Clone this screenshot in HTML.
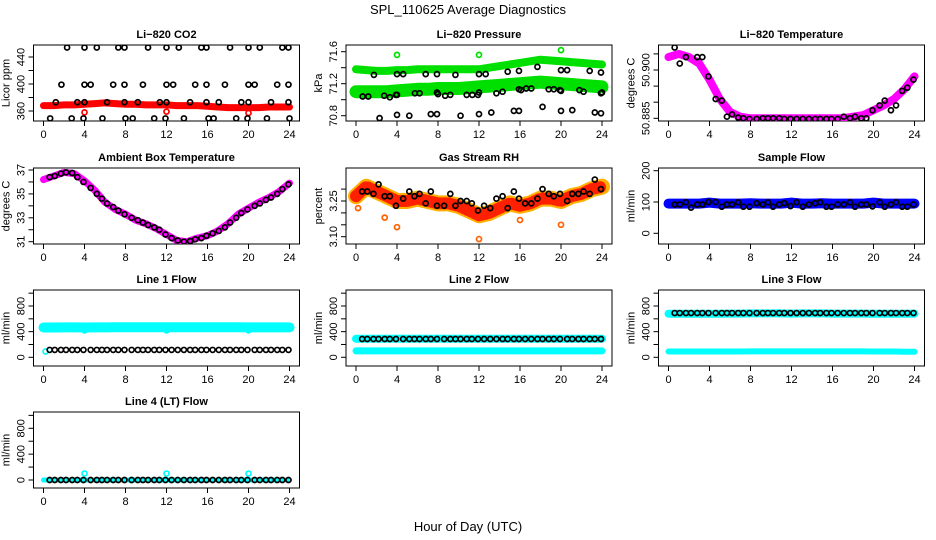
<!DOCTYPE html>
<html><head><meta charset="utf-8">
<style>
html,body{margin:0;padding:0;background:#fff;}
svg{display:block;font-family:"Liberation Sans",Arial,sans-serif;}
</style></head>
<body>
<svg id="fig" width="936" height="540" viewBox="0 0 936 540">
<rect width="936" height="540" fill="#fff"/>
<text x="468" y="14" text-anchor="middle" font-size="13">SPL_110625  Average Diagnostics</text>
<text x="468" y="531" text-anchor="middle" font-size="13">Hour of Day (UTC)</text>
</svg>
<script>
// ---- data ----
const xTicks = [0,4,8,12,16,20,24];
const bandHrs = [0,1,2,3,4,5,6,7,8,9,10,11,12,13,14,15,16,17,18,19,20,21,22,23,24];
const hrs = [0.6,1.1,1.7,2.2,2.8,3.3,3.9,4.6,5.2,5.7,6.2,6.8,7.3,7.9,8.6,9.2,9.7,10.2,10.8,11.3,11.9,12.5,13.1,13.7,14.3,14.8,15.4,15.9,16.5,17.1,17.7,18.2,18.8,19.3,19.9,20.6,21.1,21.7,22.2,22.8,23.3,23.9];
const setHrs = [2.3,4.0,5.2,7.3,7.9,10.2,12.0,13.2,15.4,15.9,18.2,20.0,21.1,23.3,23.9,
 1.75,4.0,4.6,6.8,7.9,9.7,12.0,12.65,14.8,15.9,17.7,20.0,20.6,22.8,23.9,
 1.2,3.3,4.0,6.2,7.9,9.2,11.35,12.0,14.3,15.9,17.1,19.3,20.0,22.2,23.9,
 0.65,2.75,3.9,5.75,8.0,8.7,10.8,11.9,13.7,16.1,16.6,18.8,19.9,21.8,24.0];
const outHrs = [4,12,20];

const co2Vals = [454,454,454,454,454,454,454,454,454,454,454,454,454,454,454,
 399,399,399,399,399,399,399,399,399,399,399,399,399,399,399,
 373,373,373,373,373,373,373,373,373,373,373,373,373,373,373,
 349,349,349,349,349,349,349,349,349,349,349,349,349,349,349];
const co2Band = [368,368,369,369,370,371,372,371,370,370,369,369,369,368,368,368,367,366,365,365,365,365,366,366,366];
const co2Out = [358,359,357];

const presVals = [70.77,70.81,70.80,70.82,70.82,70.80,70.82,70.84,70.86,70.86,70.91,70.86,70.87,70.84,70.83,
 71.31,71.32,71.32,71.32,71.32,71.31,71.32,71.32,71.35,71.36,71.41,71.37,71.37,71.36,71.34,
 71.04,71.03,71.06,71.08,71.09,71.06,71.06,71.09,71.10,71.13,71.14,71.13,71.11,71.10,71.08,
 71.04,71.05,71.06,71.08,71.07,71.05,71.06,71.06,71.08,71.12,71.14,71.13,71.12,71.12,71.09];
const presUpper = [71.38,71.37,71.36,71.36,71.37,71.37,71.38,71.38,71.38,71.38,71.38,71.38,71.38,71.40,71.42,71.44,71.46,71.48,71.50,71.49,71.48,71.47,71.46,71.45,71.44];
const presLower = [71.10,71.10,71.10,71.10,71.11,71.12,71.13,71.13,71.14,71.14,71.14,71.15,71.16,71.17,71.18,71.19,71.20,71.21,71.22,71.21,71.20,71.19,71.18,71.17,71.16];
const presOut = [71.56,71.56,71.62];

const tempVals = [50.907,50.902,50.904,50.9105,50.904,50.904,50.898,50.891,50.8905,50.8855,50.8862,50.8852,50.885,50.8848,50.8848,50.885,50.885,50.885,50.885,50.8848,50.8848,50.8848,50.8848,50.8848,50.8848,50.8848,50.8848,50.8848,50.8848,50.8855,50.885,50.8855,50.885,50.885,50.8875,50.889,50.8905,50.8875,50.889,50.8935,50.8945,50.897];
const tempBand = [50.904,50.905,50.904,50.902,50.897,50.891,50.887,50.8855,50.885,50.885,50.885,50.885,50.885,50.885,50.885,50.885,50.885,50.885,50.8855,50.886,50.8875,50.889,50.891,50.894,50.898];

const ambVals = [36.4,36.5,36.7,36.8,36.75,36.4,36.0,35.5,35.0,34.6,34.2,33.9,33.6,33.3,33.0,32.8,32.6,32.4,32.2,32.0,31.6,31.3,31.1,31.0,31.05,31.2,31.3,31.5,31.7,31.9,32.2,32.6,33.0,33.4,33.7,34.0,34.2,34.5,34.7,35.0,35.4,35.8];
const ambBand = [36.2,36.5,36.8,36.7,36.1,35.3,34.3,33.7,33.3,32.8,32.5,32.1,31.6,31.1,31.0,31.3,31.5,31.9,32.5,33.3,33.8,34.3,34.7,35.2,35.9];

const rhVals = [3.29,3.29,3.28,3.32,3.27,3.27,3.23,3.26,3.29,3.27,3.28,3.24,3.29,3.23,3.23,3.28,3.23,3.25,3.25,3.24,3.21,3.23,3.22,3.26,3.27,3.22,3.29,3.26,3.24,3.24,3.26,3.30,3.28,3.27,3.28,3.25,3.28,3.28,3.29,3.28,3.34,3.30];
const rhBand = [3.27,3.31,3.29,3.27,3.25,3.25,3.26,3.25,3.24,3.24,3.23,3.21,3.19,3.20,3.22,3.24,3.23,3.24,3.26,3.26,3.25,3.27,3.28,3.30,3.31];
const rhOut = [3.22,3.18,3.14,3.09,3.17,3.15];
const rhOutHrs = [0.2,2.8,4.0,12.0,16.0,20.0];

const sfVals = [92,92,99,82,92,92,100,100,85,92,92,99,85,85,96,92,99,85,92,96,87,99,85,92,96,99,85,85,92,92,99,85,92,92,86,99,85,92,99,85,85,92];
const sfBand = [95,95,95,95,98,95,95,95,96,95,95,95,98,95,95,96,95,95,95,95,98,95,95,95,95];

const l1Vals = [115,115,115,115,115,115,115,115,115,115,115,115,115,115,115,115,115,115,115,115,115,115,115,115,115,115,115,115,115,115,115,115,115,115,115,115,115,115,115,115,115,115];
const l1Band = [465,465,466,466,465,466,467,468,468,468,468,468,468,468,468,468,468,468,468,468,466,466,466,466,466];
const l1Out = [90,420,420,420];
const l1OutHrs = [0.2,4,12,20];

const l2Vals = [285,285,285,285,285,285,285,285,285,285,285,285,285,285,285,285,285,285,285,285,285,285,285,285,285,285,285,285,285,285,285,285,285,285,285,285,285,285,285,285,285,285];
const l2Upper = [290,290,290,290,288,290,290,290,290,290,290,290,288,290,290,290,290,290,290,290,288,290,290,290,290];
const l2Lower = [100,100,100,100,100,100,100,100,100,100,100,100,100,100,100,100,100,100,100,100,100,100,100,100,100];

const l3Vals = [690,690,690,690,690,690,690,690,690,690,690,690,690,690,690,690,690,690,690,690,690,690,690,690,690,690,690,690,690,690,690,690,690,690,690,690,690,690,690,690,690,690];
const l3Upper = [680,680,680,680,678,680,682,682,684,684,684,684,682,684,684,684,682,682,682,682,678,680,680,680,682];
const l3Lower = [90,90,90,90,90,90,90,90,92,92,92,92,92,92,92,92,92,92,92,92,90,90,90,88,88];

const l4Vals = [0,0,0,0,0,0,0,0,0,0,0,0,0,0,0,0,0,0,0,0,0,0,0,0,0,0,0,0,0,0,0,0,0,0,0,0,0,0,0,0,0,0];
const l4Band = [0,0,0,0,0,0,0,0,0,0,0,0,0,0,0,0,0,0,0,0,0,0,0,0,0];
const l4Out = [100,100,100];

// ---- drawing ----
const NS = "http://www.w3.org/2000/svg";
const svg = document.getElementById('fig');
const colLeft = [33.5, 346, 658.5];
const rowTop = [45, 168, 290, 412];
const BW = 266, BH = 76;

function mk(tag, attrs, parent){
  const e = document.createElementNS(NS, tag);
  for (const k in attrs) e.setAttribute(k, attrs[k]);
  parent.appendChild(e);
  return e;
}

function panel(key, title, ylab, col, row, v1, p1, v2, p2, ticks, labels){
  const L = colLeft[col], T = rowTop[row];
  const g = mk('g', {}, svg);
  
  
  const xs = h => L + 10 + h * 10.25;
  const k = (p2 - p1) / (v2 - v1);
  const ys = v => T + p1 + (v - v1) * k;
  const box = mk('rect', {x:L, y:T, width:BW, height:BH, fill:'none', stroke:'#000', 'stroke-width':1}, g);
  
  
  const t = mk('text', {x:L + BW/2, y:T - 7, 'text-anchor':'middle', 'font-size':11, 'font-weight':'bold'}, g);
  t.textContent = title;
  
  
  const xa = mk('g', {}, g);
  
  
  mk('line', {x1:xs(xTicks[0]), x2:xs(xTicks[xTicks.length-1]), y1:T+BH, y2:T+BH, stroke:'#000'}, xa);
  xTicks.forEach(v => {
    mk('line', {x1:xs(v), x2:xs(v), y1:T+BH, y2:T+BH+5, stroke:'#000'}, xa);
    const tl = mk('text', {x:xs(v), y:T+BH+17, 'text-anchor':'middle', 'font-size':11}, xa);
    tl.textContent = String(v);
    
    
  });
  const ya = mk('g', {}, g);
  
  
  mk('line', {x1:L, x2:L, y1:ys(ticks[0]), y2:ys(ticks[ticks.length-1]), stroke:'#000'}, ya);
  ticks.forEach(v => {
    mk('line', {x1:L-5, x2:L, y1:ys(v), y2:ys(v), stroke:'#000'}, ya);
  });
  labels.forEach(lb => {
    const yy = ys(parseFloat(lb));
    const tl = mk('text', {x:L-9, y:yy, 'text-anchor':'middle', 'font-size':11, transform:'rotate(-90 ' + (L-9) + ' ' + yy + ')'}, ya);
    tl.textContent = lb;
    
    
  });
  const yl = L - 24, ym = T + BH/2;
  const ylt = mk('text', {x:yl, y:ym, 'text-anchor':'middle', 'font-size':11, transform:'rotate(-90 ' + yl + ' ' + ym + ')'}, g);
  ylt.textContent = ylab;
  
  
  const clipId = 'clip-' + key;
  const cp = mk('clipPath', {id:clipId}, g);
  mk('rect', {x:L, y:T, width:BW, height:BH}, cp);
  const marks = mk('g', {'clip-path':'url(#' + clipId + ')'}, g);
  
  
  return {xs, ys, marks, key};
}

function band(p, hArr, vArr, color, width, name){
  const pts = hArr.map((h,i) => p.xs(h).toFixed(1) + ',' + p.ys(vArr[i]).toFixed(1)).join(' ');
  const pl = mk('polyline', {points:pts, fill:'none', stroke:color, 'stroke-width':width, 'stroke-linecap':'round', 'stroke-linejoin':'round'}, p.marks);
  
  
  return pl;
}
function pts(p, hArr, vArr, color, name, sw){
  hArr.forEach((h,i) => {
    const c = mk('circle', {cx:p.xs(h), cy:p.ys(vArr[i]), r:2.5, fill:'none', stroke:color, 'stroke-width':sw || 1.7}, p.marks);
    
    
  });
}

// Li-820 CO2
let p = panel('co2', 'Li\u2212820 CO2', 'Licor ppm', 0, 0, 360, 66, 440, 12, [360,380,400,420,440], ['360','400','440']);
band(p, bandHrs, co2Band, '#ff0000', 7, 'co2-band');
pts(p, outHrs, co2Out, '#ff0000', 'co2-outlier-point');
pts(p, setHrs, co2Vals, '#000', 'co2-point');

// Pressure
p = panel('pressure', 'Li\u2212820 Pressure', 'kPa', 1, 0, 70.8, 70.7, 71.6, 6.7, [70.8,71.0,71.2,71.4,71.6], ['70.8','71.2','71.6']);
band(p, bandHrs, presUpper, '#00e000', 8, 'pressure-upper-band');
band(p, bandHrs, presLower, '#00e000', 13, 'pressure-lower-band');
pts(p, outHrs, presOut, '#00e000', 'pressure-outlier-point');
pts(p, setHrs, presVals, '#000', 'pressure-point');

// Temperature
p = panel('temp', 'Li\u2212820 Temperature', 'degrees C', 2, 0, 50.885, 73.3, 50.900, 25, [50.885,50.890,50.895,50.900,50.905], ['50.885','50.900']);
band(p, bandHrs, tempBand, '#ff00ff', 8, 'temp-band');
pts(p, hrs, tempVals, '#000', 'temp-point');

// Ambient
p = panel('ambient', 'Ambient Box Temperature', 'degrees C', 0, 1, 31, 73.7, 37, 2, [31,32,33,34,35,36,37], ['31','33','35','37']);
band(p, bandHrs, ambBand, '#ff00ff', 7, 'ambient-band');
pts(p, hrs, ambVals, '#000', 'ambient-point');

// RH
p = panel('rh', 'Gas Stream RH', 'percent', 1, 1, 3.10, 68.7, 3.25, 33, [3.10,3.15,3.20,3.25,3.30], ['3.10','3.25']);
band(p, bandHrs, rhBand, '#ffb000', 16, 'rh-band');
band(p, bandHrs, rhBand, '#ff2000', 12, 'rh-band-dots').setAttribute('stroke-dasharray', '1 3');
pts(p, rhOutHrs, rhOut, '#ff6000', 'rh-outlier-point');
pts(p, hrs, rhVals, '#000', 'rh-point');

// Sample flow
p = panel('sample-flow', 'Sample Flow', 'ml/min', 2, 1, 0, 65.3, 200, 2.7, [0,100,200], ['0','100','200']);
band(p, bandHrs, sfBand, '#0000ff', 10, 'sample-flow-band');
pts(p, hrs, sfVals, '#000', 'sample-flow-point');

const flowTicks = [0,200,400,600,800,1000];
const flowLabels = ['0','400','800'];
// Line 1
p = panel('line1', 'Line 1 Flow', 'ml/min', 0, 2, 0, 67.3, 800, 16, flowTicks, flowLabels);
band(p, bandHrs, l1Band, '#00ffff', 10, 'line1-band');
pts(p, l1OutHrs, l1Out, '#00ffff', 'line1-outlier-point');
pts(p, hrs, l1Vals, '#000', 'line1-point');

// Line 2
p = panel('line2', 'Line 2 Flow', 'ml/min', 1, 2, 0, 67.3, 800, 16, flowTicks, flowLabels);
band(p, bandHrs, l2Upper, '#00ffff', 8, 'line2-upper-band');
band(p, bandHrs, l2Lower, '#00ffff', 7, 'line2-lower-band');
pts(p, hrs, l2Vals, '#000', 'line2-point');

// Line 3
p = panel('line3', 'Line 3 Flow', 'ml/min', 2, 2, 0, 67.3, 800, 16, flowTicks, flowLabels);
band(p, bandHrs, l3Upper, '#00ffff', 8, 'line3-upper-band');
band(p, bandHrs, l3Lower, '#00ffff', 6, 'line3-lower-band');
pts(p, hrs, l3Vals, '#000', 'line3-point');

// Line 4
p = panel('line4', 'Line 4 (LT) Flow', 'ml/min', 0, 3, 0, 68, 800, 16.3, flowTicks, flowLabels);
band(p, bandHrs, l4Band, '#00ffff', 5, 'line4-band');
pts(p, outHrs, l4Out, '#00ffff', 'line4-outlier-point');
pts(p, hrs, l4Vals, '#000', 'line4-point');
</script>
</body></html>
